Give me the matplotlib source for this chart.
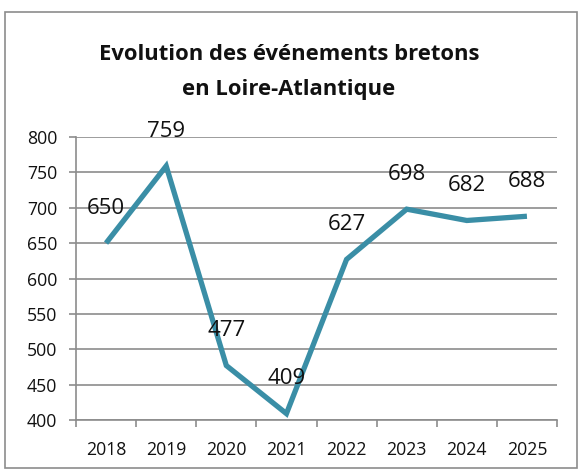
import matplotlib
matplotlib.use("Agg")
import matplotlib.pyplot as plt
from matplotlib.patches import Rectangle
import numpy as np

years = ["2018", "2019", "2020", "2021", "2022", "2023", "2024", "2025"]
values = [650, 759, 477, 409, 627, 698, 682, 688]
title = "Evolution des événements bretons\nen Loire-Atlantique"

plt.rcParams['font.family'] = ['Open Sans', 'DejaVu Sans']

W, H = 578, 469
fig = plt.figure(figsize=(W/100, H/100), dpi=100)
fig.patch.set_facecolor('white')

# outer border
fig.patches.append(Rectangle((5/W, 1 - 468/H), (577-5)/W, (468-12)/H,
                             transform=fig.transFigure, fill=False,
                             edgecolor='#8c8c8c', linewidth=1.2))

ax = fig.add_axes([76/W, 1 - 420/H, (557-76)/W, (420-137)/H])
x = np.arange(len(years))
ax.plot(x, values, color='#3A8EA6', linewidth=3.8, solid_joinstyle='miter',
        solid_capstyle='butt', zorder=3)
for xi, v in zip(x, values):
    ax.annotate(str(v), (xi, v), xytext=(0, 25), textcoords='offset points',
                ha='center', va='center', fontsize=16, color='#111111', zorder=4)

ax.set_xlim(-0.5, len(years) - 0.5)
ax.set_ylim(400, 800)
ax.set_yticks(np.arange(400, 801, 50))
ax.yaxis.grid(True, color='#8c8c8c', linewidth=1.2)
ax.set_axisbelow(True)
ax.set_xticks(x)
ax.set_xticklabels(years)
ax.set_xticks(np.arange(-0.5, len(years)), minor=True)
ax.tick_params(axis='x', which='major', length=0, pad=15, labelsize=12.7, colors='#111111')
ax.tick_params(axis='x', which='minor', length=5, width=1.2, color='#8c8c8c')
ax.tick_params(axis='y', length=5, width=1.2, color='#8c8c8c', pad=8.5, labelsize=12.7, labelcolor='#111111')
for s in ['top', 'right']:
    ax.spines[s].set_visible(False)
for s in ['left', 'bottom']:
    ax.spines[s].set_color('#8c8c8c')
    ax.spines[s].set_linewidth(1.2)

fig.text(289/W, 1 - 72/H, title, ha='center', va='center', fontsize=15.8,
         fontweight='bold', linespacing=1.85, color='#111111')

fig.savefig('out.png', dpi=100)
